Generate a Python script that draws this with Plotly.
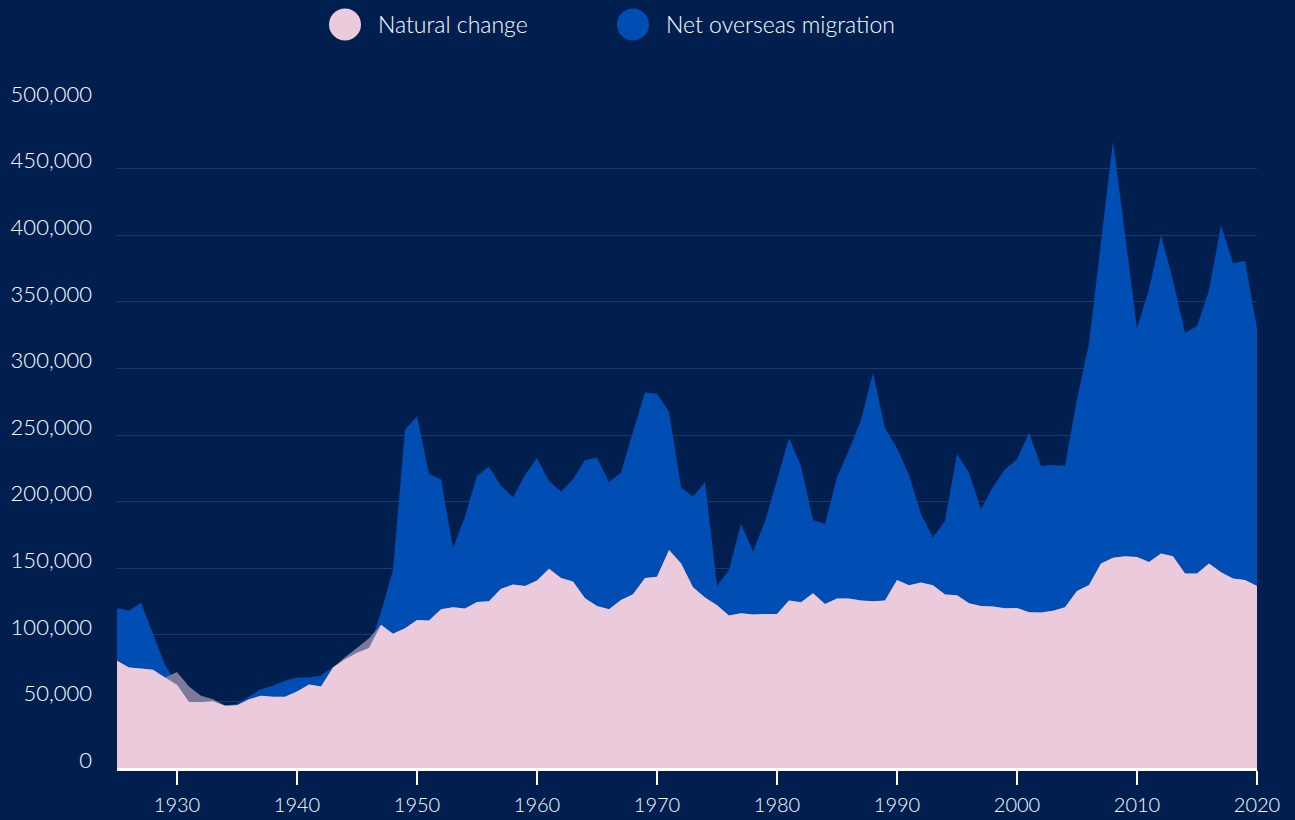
import plotly.graph_objects as go

years = list(range(1925, 2021))

natural = [
    80500, 75500, 74700, 73700, 68000, 72000, 61200, 54200, 51700, 47000,
    47200, 51700, 54200, 53500, 53500, 57500, 62700, 61200, 75500, 83200,
    90000, 97500, 107500, 100700, 105000, 111200, 110700, 119200, 120700, 119700,
    124700, 125200, 134500, 137700, 136700, 140700, 149500, 142700, 140000, 127500,
    121700, 119200, 126200, 130500, 142700, 143500, 163700, 153700, 135700, 128000,
    122200, 114500, 116200, 115200, 115700, 115700, 125700, 124500, 131200, 123200,
    127300, 127200, 125700, 125200, 125700, 141200, 137200, 139200, 137200, 130200,
    129700, 123700, 121700, 121200, 120000, 120200, 117000, 116700, 118000, 120700,
    132800, 137300, 153600, 157800, 159000, 158500, 154600, 161000, 159000, 146000,
    146000, 153600, 147000, 142200, 141200, 136600,
]

migration = [
    39500, 42500, 49300, 27000, 9500, -9500, -11700, -4700, -1500, -200,
    1000, 2000, 5000, 8200, 12000, 10500, 5300, 8300, 500, -1500,
    -3500, -7500, 9500, 48000, 149000, 152800, 110000, 97500, 44300, 69000,
    94800, 101000, 77200, 65500, 83300, 91800, 66000, 64800, 76700, 103700,
    111300, 95500, 95500, 122000, 139300, 137500, 103800, 57000, 68000, 86700,
    14500, 34200, 67000, 47300, 69300, 100500, 121800, 102200, 55000, 60000,
    90700, 111500, 135500, 171500, 129300, 98800, 82800, 51500, 35800, 55500,
    106000, 98000, 72500, 90000, 104200, 111500, 134700, 110000, 109500, 106300,
    144200, 181300, 243400, 312800, 242000, 171500, 204900, 238700, 207000, 180800,
    185700, 204900, 260500, 236800, 239500, 193400,
]

series_names = ["Natural change", "Net overseas migration"]
x_ticks = list(range(1930, 2021, 10))
y_ticks = list(range(0, 500001, 50000))

BG = "#001F4F"
BLUE = "#004DB4"
PINK = "#EBCBDB"
GRAY = "#7B7A9B"
FONT = "Lato"

total = [n + m for n, m in zip(natural, migration)]
lower = [min(n, t) for n, t in zip(natural, total)]

fig = go.Figure()
fig.add_trace(go.Scatter(
    x=years, y=total, mode="lines", fill="tozeroy",
    line=dict(width=0, color=BLUE), fillcolor=BLUE,
    name=series_names[1], showlegend=False,
))
fig.add_trace(go.Scatter(
    x=years, y=natural, mode="lines", fill="tozeroy",
    line=dict(width=0, color=GRAY), fillcolor=GRAY,
    name="Natural change (above total)", showlegend=False, hoverinfo="skip",
))
fig.add_trace(go.Scatter(
    x=years, y=lower, mode="lines", fill="tozeroy",
    line=dict(width=0, color=PINK), fillcolor=PINK,
    name=series_names[0], showlegend=False,
))

# Manual legend (large circles)
plot_l, plot_r = 117, 1257
plot_t, plot_b = 101.6, 768.3
def px_to_paper_x(px):
    return (px - plot_l) / (plot_r - plot_l)
def py_to_paper_y(py):
    return (plot_b - py) / (plot_b - plot_t)

legend_items = [
    (series_names[0], PINK, 345, 376),
    (series_names[1], BLUE, 633, 664),
]
shapes = []
annotations = []
for name, color, cx, tx in legend_items:
    shapes.append(dict(
        type="circle", xref="paper", yref="paper",
        xsizemode="pixel", ysizemode="pixel",
        xanchor=px_to_paper_x(cx), yanchor=py_to_paper_y(24),
        x0=-16, x1=16, y0=-16, y1=16,
        fillcolor=color, line=dict(width=0),
    ))
    annotations.append(dict(
        text=name, xref="paper", yref="paper",
        x=px_to_paper_x(tx), y=py_to_paper_y(24),
        xanchor="left", yanchor="middle", showarrow=False,
        font=dict(family=FONT, size=23, color="white", weight=300),
    ))

fig.update_layout(
    width=1295, height=820,
    paper_bgcolor=BG, plot_bgcolor=BG,
    margin=dict(l=plot_l, r=1295 - plot_r, t=plot_t, b=820 - plot_b, autoexpand=False),
    font=dict(family=FONT, color="white"),
    shapes=shapes, annotations=annotations,
    showlegend=False,
)
fig.update_xaxes(
    range=[1925, 2020], tickvals=x_ticks, showgrid=False, zeroline=False,
    showline=True, linecolor="white", linewidth=3,
    ticks="outside", ticklen=14, tickwidth=2, tickcolor="white",
    tickfont=dict(family=FONT, size=20, color="white", weight=300),
    ticklabelstandoff=3, automargin=False,
)
fig.update_yaxes(
    range=[0, 500000], tickvals=y_ticks, tickformat=",d",
    showgrid=True, gridcolor="rgba(255,255,255,0.12)", gridwidth=1,
    zeroline=False, showline=False, ticks="",
    tickfont=dict(family=FONT, size=22, color="white", weight=300),
    ticklabelstandoff=24, ticklabelshift=-8, automargin=False,
)

fig.write_html(
    "out.html",
    config={"displayModeBar": False},
    post_script="document.body.style.margin='0';document.body.style.overflow='hidden';",
)
